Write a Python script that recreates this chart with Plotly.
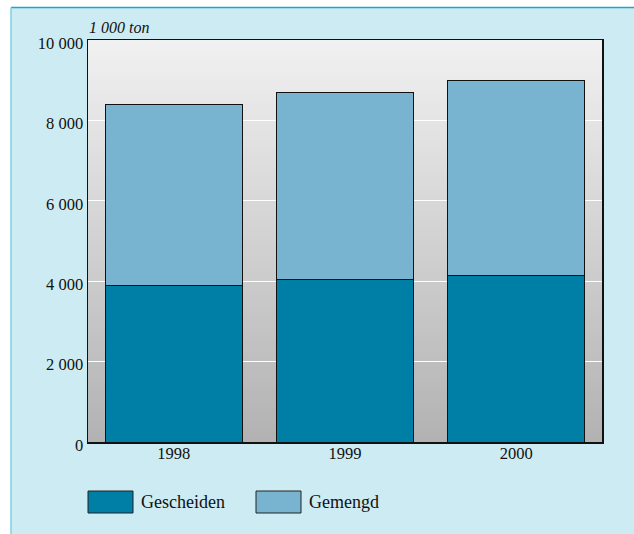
import plotly.graph_objects as go

years = ["1998", "1999", "2000"]
gescheiden = [3900, 4050, 4150]
gemengd = [4490, 4650, 4835]
series_names = ["Gescheiden", "Gemengd"]
series_colors = ["#007fa6", "#78b4d0"]
y_tickvals = [0, 2000, 4000, 6000, 8000, 10000]
y_ticktext = ["0", "2 000", "4 000", "6 000", "8 000", "10 000"]
unit_label = "1 000 ton"

W, H = 634, 534
L, R, T, B = 88, 32, 40, 92
pw, ph = W - L - R, H - T - B

def px_x(px):
    return (px - L) / pw

def px_y(py):
    return (H - B - py) / ph

FONT = "Liberation Serif"

fig = go.Figure()
for name, vals, col in zip(series_names, [gescheiden, gemengd], series_colors):
    fig.add_trace(go.Bar(
        x=years, y=vals, name=name,
        marker=dict(color=col, line=dict(color="#111111", width=1)),
        showlegend=False, hoverinfo="skip",
    ))

shapes = []
shapes.append(dict(type="rect", xref="paper", yref="paper",
                   x0=px_x(11), x1=px_x(640), y0=px_y(540), y1=px_y(8),
                   fillcolor="#cdebf2", line=dict(width=0), layer="below"))
shapes.append(dict(type="line", xref="paper", yref="paper",
                   x0=px_x(11), x1=px_x(640), y0=px_y(7.5), y1=px_y(7.5),
                   line=dict(color="#1ba6cf", width=1.5), layer="below"))
shapes.append(dict(type="line", xref="paper", yref="paper",
                   x0=px_x(11), x1=px_x(11), y0=px_y(7.5), y1=px_y(540),
                   line=dict(color="#7fcfe6", width=1.5), layer="below"))
n = 80
top_c, bot_c = 241, 178
for i in range(n):
    f = (i + 0.5) / n
    c = round(bot_c + (top_c - bot_c) * f)
    shapes.append(dict(type="rect", xref="x domain", yref="y domain",
                       x0=0, x1=1, y0=i / n, y1=(i + 1) / n + 0.002,
                       fillcolor=f"rgb({c},{c},{c})", line=dict(width=0),
                       layer="below"))

leg_items = [(88, 133, 141), (256, 301, 309)]
annotations = []
for (x0, x1, tx), name, col in zip(leg_items, series_names, series_colors):
    shapes.append(dict(type="rect", xref="paper", yref="paper",
                       x0=px_x(x0), x1=px_x(x1), y0=px_y(513), y1=px_y(491),
                       fillcolor=col, line=dict(color="#222222", width=1)))
    annotations.append(dict(xref="paper", yref="paper", x=px_x(tx - 2), y=px_y(502),
                            xanchor="left", yanchor="middle", showarrow=False,
                            text=name, font=dict(family=FONT, size=18, color="#111111")))

annotations.append(dict(xref="paper", yref="paper", x=px_x(87), y=px_y(27),
                        xanchor="left", yanchor="middle", showarrow=False,
                        text=f"<i>{unit_label}</i>",
                        font=dict(family=FONT, size=16, color="#111111")))

fig.update_layout(
    width=W, height=H,
    margin=dict(l=L, r=R, t=T, b=B, pad=0),
    paper_bgcolor="white",
    plot_bgcolor="rgba(0,0,0,0)",
    barmode="stack",
    bargap=0.2,
    shapes=shapes,
    annotations=annotations,
    font=dict(family=FONT, size=16.5, color="#111111"),
    showlegend=False,
    hovermode=False,
)
fig.update_xaxes(type="category", showline=True, linecolor="#111111", linewidth=1.5,
                 mirror=True, showgrid=False, ticks="", ticklabelstandoff=-4,
                 tickfont=dict(family=FONT, size=16.5, color="#111111"))
fig.update_yaxes(range=[0, 10000], tickvals=y_tickvals, ticktext=y_ticktext,
                 showline=True, linecolor="#111111", linewidth=1.5, mirror=True,
                 showgrid=True, gridcolor="white", gridwidth=1, zeroline=False,
                 ticks="", ticklabelstandoff=0, ticklabelshift=3,
                 tickfont=dict(family=FONT, size=16.5, color="#111111"))

fig.write_html("out.html", config={"displayModeBar": False, "staticPlot": True},
               post_script="document.body.style.margin='0';document.body.style.padding='0';window.dispatchEvent(new Event('resize'));")
